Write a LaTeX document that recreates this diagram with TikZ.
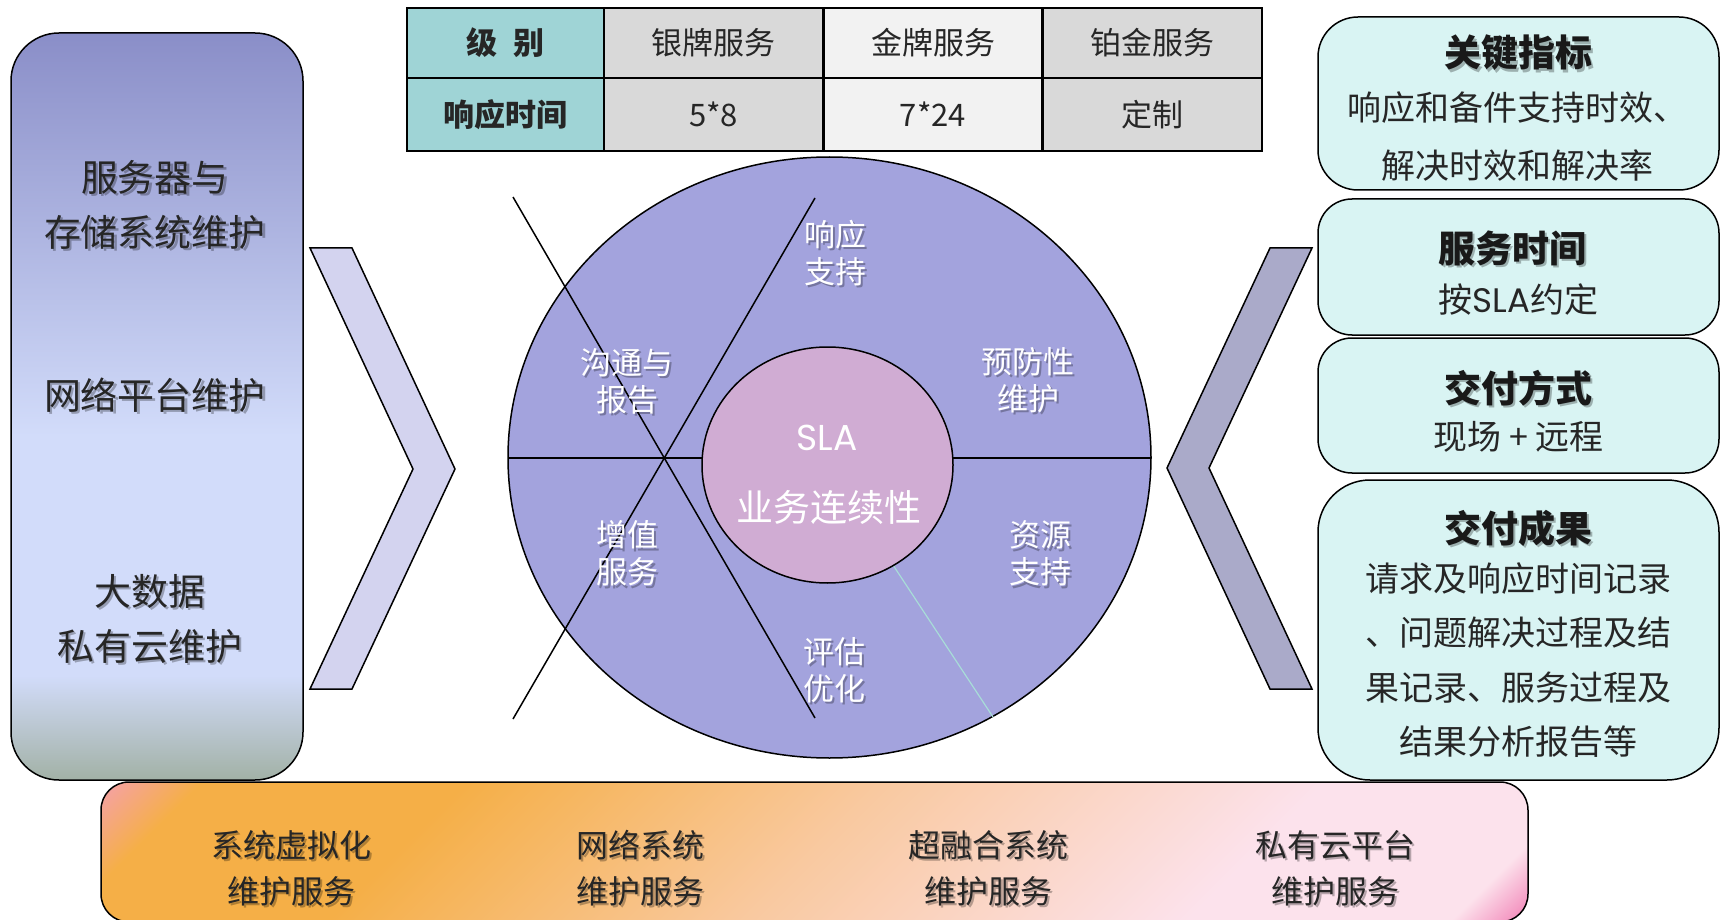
\documentclass[tikz,border=0pt]{standalone}
\usepackage{fontspec}
\setmainfont{Noto Sans CJK SC}
\newfontfamily\geofont{Poppins}
\usepackage{xcolor}

\definecolor{lpTop}{HTML}{8A8EC8}
\definecolor{lpMid}{HTML}{D2DCFA}
\definecolor{lpBot}{HTML}{A2B1A6}
\definecolor{bandPink}{HTML}{F59FB6}
\definecolor{bandOrange}{HTML}{F5AF47}
\definecolor{bandPeach}{HTML}{F9C9A0}
\definecolor{bandLight}{HTML}{FCE2EC}
\definecolor{bandHot}{HTML}{EE62A4}
\definecolor{ringFill}{HTML}{A3A3DD}
\definecolor{coreFill}{HTML}{D0ACD3}
\definecolor{cellTeal}{HTML}{9FD4D6}
\definecolor{cellGray}{HTML}{D9D9D9}
\definecolor{cellLight}{HTML}{F2F2F2}
\definecolor{chevLeft}{HTML}{D3D3EF}
\definecolor{chevRight}{HTML}{AAAAC9}
\definecolor{panelFill}{HTML}{D9F4F3}
\definecolor{cyanLine}{HTML}{A8DDD8}

\pgfdeclareverticalshading{leftpanelshade}{100bp}{color(0bp)=(lpBot); color(25bp)=(lpBot); color(32bp)=(lpMid); color(48bp)=(lpMid); color(75bp)=(lpTop); color(100bp)=(lpTop)}
\pgfdeclarehorizontalshading{bandshade}{100bp}{color(0bp)=(bandPink); color(14bp)=(bandPink); color(19bp)=(bandOrange); color(31bp)=(bandOrange); color(50bp)=(bandPeach); color(70bp)=(bandLight); color(82bp)=(bandLight); color(86.5bp)=(bandHot); color(100bp)=(bandHot)}

% text with a soft drop shadow
\newcommand{\shadowed}[4]{%
  \node[#1, text=black, opacity=.28, xshift=1.2pt, yshift=-1.2pt] (#2-sh) at (#3) {#4};
  \node[#1] (#2) at (#3) {#4};}

\begin{document}
\begin{tikzpicture}[x=0.5pt, y=-0.5pt,
    outline/.style={draw=black, line width=0.75pt},
    panel/.style={outline, fill=panelFill},
    cell/.style={draw=black, line width=1.25pt, inner sep=0pt, minimum width=109.5pt,
      font=\fontsize{15.5}{18}\selectfont, text=black!85},
    lefttxt/.style={align=center, text=black!85, font=\fontsize{18.5}{27.5}\selectfont},
    ringtxt/.style={align=center, text=white, font=\fontsize{15.5}{18.5}\selectfont},
    titletxt/.style={align=center, text=black!90, font=\bfseries\fontsize{18.5}{22}\selectfont},
    bodytxt/.style={align=center, text=black!85, font=\fontsize{17}{28}\selectfont},
    bandtxt/.style={align=center, text=black!85, font=\fontsize{16}{23}\selectfont}]
    \useasboundingbox (0,0) rectangle (1721,920);

    % Left panel
    \shade[shading=leftpanelshade, draw=black, line width=0.75pt, rounded corners=24pt] (11,33) rectangle (303,780);
    \shadowed{lefttxt}{server}{155,204.5}{服务器与\\存储系统维护}
    \shadowed{lefttxt}{network}{155,395}{网络平台维护}
    \shadowed{lefttxt}{bigdata}{150,618.5}{大数据\\私有云维护}

    % Bottom band
    \shade[shading=bandshade, shading angle=-45, draw=black, line width=0.75pt, rounded corners=14pt] (101,782) rectangle (1528,922);
    \shadowed{bandtxt}{virt}{291,868}{系统虚拟化\\维护服务}
    \shadowed{bandtxt}{netsys}{640,868}{网络系统\\维护服务}
    \shadowed{bandtxt}{hci}{988,868}{超融合系统\\维护服务}
    \shadowed{bandtxt}{cloud}{1335,868}{私有云平台\\维护服务}

    % Chevrons
    \draw[outline, fill=chevLeft] (310,248) -- (352,248) -- (455,469) -- (352,689) -- (310,689) -- (413,469) -- cycle;
    \draw[outline, fill=chevRight] (1312,248) -- (1270,248) -- (1167,468) -- (1270,689) -- (1312,689) -- (1209,468) -- cycle;

    % Service level table
    \node[cell, fill=cellTeal, minimum width=98.5pt, minimum height=35pt, font=\bfseries\fontsize{15.5}{18}\selectfont] (level) at (505.5,43) {级\hspace{0.5em}别};
    \node[cell, fill=cellGray, minimum height=35pt] (silver) at (713.5,43) {银牌服务};
    \node[cell, fill=cellLight, minimum height=35pt] (gold) at (933,43) {金牌服务};
    \node[cell, fill=cellGray, minimum height=35pt] (platinum) at (1152.5,43) {铂金服务};
    \node[cell, fill=cellTeal, minimum width=98.5pt, minimum height=36.5pt, font=\bfseries\fontsize{15.5}{18}\selectfont] (resptime) at (505.5,114.5) {响应时间};
    \node[cell, fill=cellGray, minimum height=36.5pt] (silvertime) at (713.5,114.5) {5*8};
    \node[cell, fill=cellLight, minimum height=36.5pt] (goldtime) at (933,114.5) {7*24};
    \node[cell, fill=cellGray, minimum height=36.5pt] (platinumtime) at (1152.5,114.5) {定制};

    % Ring
    \coordinate (hub) at (829.5,457.5);
    \draw[outline, fill=ringFill] (hub) ellipse [x radius=160.75pt, y radius=150.25pt];
    \draw[outline] (508,458) -- (1151,458);
    \draw[outline] (513,197) -- (815,718);
    \draw[outline] (815,198) -- (513,719);
    \draw[cyanLine, line width=0.6pt] (893,565) -- (993,717);
    \draw[outline, fill=coreFill] (827.5,465) ellipse [x radius=62.75pt, y radius=59pt];
    \shadowed{ringtxt}{respond}{835,253}{响应\\支持}
    \shadowed{ringtxt}{report}{627,381}{沟通与\\报告}
    \shadowed{ringtxt}{prevent}{1028,380}{预防性\\维护}
    \shadowed{ringtxt}{value}{627,553.5}{增值\\服务}
    \shadowed{ringtxt}{resource}{1040,553.5}{资源\\支持}
    \shadowed{ringtxt}{evaluate}{834,670}{评估\\优化}
    \node[text=white, font=\geofont\fontsize{18}{22}\selectfont] (sla) at (827,438) {SLA};
    \node[text=white, font=\fontsize{18.5}{22}\selectfont] (continuity) at (828.5,507) {业务连续性};

    % Right panels
    \draw[panel, rounded corners=20pt] (1318,17) rectangle (1719,190);
    \shadowed{titletxt}{kpi}{1518.5,53}{关键指标}
    \node[bodytxt, font=\fontsize{17}{29}\selectfont] (kpibody) at (1517,136) {响应和备件支持时效、\\解决时效和解决率};
    \draw[panel, rounded corners=17pt] (1318,199) rectangle (1719,335);
    \shadowed{titletxt}{hours}{1512,248}{服务时间}
    \node[bodytxt] (hoursbody) at (1518.5,300) {按{\geofont SLA}约定};
    \draw[panel, rounded corners=17pt] (1318,338) rectangle (1719,473);
    \shadowed{titletxt}{mode}{1518.5,388}{交付方式}
    \node[bodytxt] (modebody) at (1518.5,437) {现场 + 远程};
    \draw[panel, rounded corners=26pt] (1318,480) rectangle (1719,780);
    \shadowed{titletxt}{result}{1518.5,528}{交付成果}
    \node[bodytxt, font=\fontsize{17}{27.2}\selectfont] (resultbody) at (1518.5,660) {请求及响应时间记录\\、问题解决过程及结\\果记录、服务过程及\\结果分析报告等};
\end{tikzpicture}
\end{document}
